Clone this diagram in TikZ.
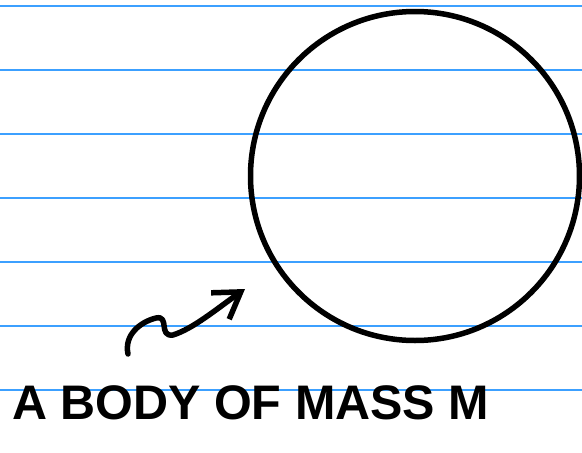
\documentclass[tikz,border=0pt]{standalone}
\usepackage{fontspec}
\setmainfont{Liberation Sans}
\usetikzlibrary{arrows.meta,bending}

\definecolor{ruleblue}{RGB}{60,160,255}

\begin{document}
\begin{tikzpicture}[
  x=1pt,y=-1pt,
  rule line/.style={draw=ruleblue,line width=1.3pt},
  pen/.style={draw=black,line width=5.5pt,line cap=round,line join=round},
  body node/.style={circle,draw=black,line width=5.5pt,minimum size=329pt,inner sep=0pt},
  label node/.style={font=\fontsize{48.5}{52}\selectfont\bfseries,inner sep=0pt,text=black},
]
\useasboundingbox (0,0) rectangle (582,453);
\fill[white] (0,0) rectangle (582,453);
% ruled paper
\draw[rule line] (0,6) -- (582,6);
\draw[rule line] (0,70) -- (582,70);
\draw[rule line] (0,134) -- (582,134);
\draw[rule line] (0,198) -- (582,198);
\draw[rule line] (0,262) -- (582,262);
\draw[rule line] (0,326) -- (582,326);
\draw[rule line] (0,390) -- (582,390);
% the body
\node[body node] (body) at (415,176) {};
% label and pointer
\node[label node,anchor=base west] (label) at (12,419) {A BODY OF MASS M};
\coordinate (tail) at (128,354);
\coordinate (head) at (245,289);
\draw[pen,-{Straight Barb[length=25pt,width=32pt]}] (tail)
  .. controls (124,335) and (140,322) .. (156,318)
  .. controls (170,315) and (158,337) .. (173,335)
  .. controls (195,328) and (220,306) .. (head);
\end{tikzpicture}
\end{document}
